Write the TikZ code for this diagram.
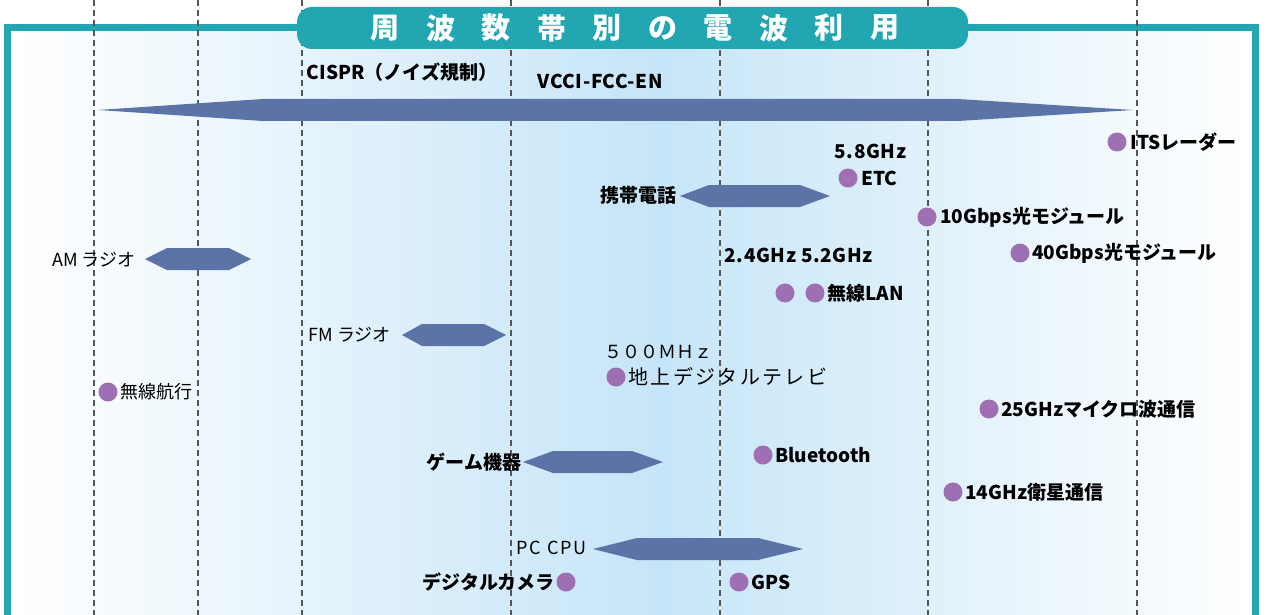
\documentclass[tikz,border=0pt]{standalone}
\usepackage{fontspec}
\newfontfamily\jp{Noto Sans CJK JP}
\usetikzlibrary{positioning}
\definecolor{frameteal}{RGB}{34,166,178}
\definecolor{bandblue}{RGB}{92,115,168}
\definecolor{dotpurple}{RGB}{158,111,178}
\definecolor{skyblue}{RGB}{198,229,248}
\definecolor{gridgray}{RGB}{85,85,85}
\newcommand{\freqband}[5]{%
    \fill[bandblue] (#1,#5) -- (#2,#5-11) -- (#3,#5-11)
        -- (#4,#5) -- (#3,#5+11) -- (#2,#5+11) -- cycle;
}
\tikzset{
    freqdot/.style={circle, fill=dotpurple, minimum size=19pt, inner sep=0pt},
    boldlbl/.style={font=\jp\bfseries\fontsize{19}{19}\selectfont, inner sep=1.5pt},
    widelbl/.style={font=\jp\bfseries\fontsize{19}{19}\selectfont\addfontfeature{LetterSpace=3}, inner sep=1.5pt},
    thinlbl/.style={font=\jp\fontsize{18}{18}\selectfont, inner sep=1.5pt},
    titlechar/.style={font=\jp\bfseries\fontsize{29}{29}\selectfont, text=white, inner sep=0pt},
    gridline/.style={gridgray, line width=1.2pt, dash pattern=on 6pt off 4pt},
}

\begin{document}
\begin{tikzpicture}[x=1pt, y=-1pt]
    \useasboundingbox (0,0) rectangle (1268,615);
    % background and frame
    \shade[left color=white, right color=skyblue] (11,31) rectangle (660,615);
    \shade[left color=skyblue, right color=white] (660,31) rectangle (1252,615);
    \draw[frameteal, line width=7pt] (7.5,615) -- (7.5,27.5) -- (1255.5,27.5) -- (1255.5,615);
    \foreach \gx in {94,198,302,511,720,928,1137}
        \draw[gridline] (\gx,0) -- (\gx,615);
    \fill[frameteal, rounded corners=15pt] (297,7) rectangle (968,49);
    \foreach \ch [count=\i] in {周,波,数,帯,別,の,電,波,利,用}
        \node[titlechar] (title\i) at ({385+55.5*(\i-1)},28) {\ch};

    % bands
    \freqband{98}{263}{958}{1133}{110}
    \node[boldlbl, anchor=west] (cispr) at (305,72) {CISPR（ノイズ規制）};
    \node[widelbl, anchor=west] (vcci) at (536,81) {VCCI-FCC-EN};
    \freqband{680}{709}{800}{830}{196}
    \node[boldlbl, anchor=east] (keitai) at (678,195) {携帯電話};
    \freqband{145}{167}{229}{251}{259}
    \node[thinlbl, anchor=east] (am) at (137,260) {AM ラジオ};
    \freqband{402}{422}{484}{506}{335}
    \node[thinlbl, anchor=west] (fm) at (307,335) {FM ラジオ};
    \freqband{523}{553}{632}{663}{462}
    \node[boldlbl, anchor=east] (game) at (523,462) {ゲーム機器};
    \freqband{593}{637}{758}{803}{549}
    \node[thinlbl, anchor=west, font=\jp\fontsize{18}{18}\selectfont\addfontfeature{LetterSpace=10}] (cpu) at (515,548) {PC CPU};

    % single frequencies
    \node[freqdot] (its) at (1117,142) {};
    \node[boldlbl, right=2pt of its] (itslbl) {ITSレーダー};
    \node[widelbl, anchor=west] (ghz58) at (833,151) {5.8GHz};
    \node[freqdot] (etc) at (848,178) {};
    \node[boldlbl, right=2pt of etc] (etclbl) {ETC};
    \node[freqdot] (opt10) at (927,217) {};
    \node[boldlbl, right=2pt of opt10] (opt10lbl) {10Gbps光モジュール};
    \node[widelbl, anchor=west] (ghz2452) at (723,255) {2.4GHz 5.2GHz};
    \node[freqdot] (opt40) at (1020,253) {};
    \node[boldlbl, right=1pt of opt40] (opt40lbl) {40Gbps光モジュール};
    \node[freqdot] (lan24) at (785,293) {};
    \node[freqdot] (lan52) at (815,293) {};
    \node[boldlbl, right=1pt of lan52] (lanlbl) {無線LAN};
    \node[thinlbl, anchor=west] (mhz500) at (603,352) {５００ＭＨｚ};
    \node[freqdot] (dtv) at (616,377) {};
    \node[thinlbl, right=1pt of dtv, font=\jp\fontsize{20}{20}\selectfont\addfontfeature{LetterSpace=12}] (dtvlbl) {地上デジタルテレビ};
    \node[freqdot] (nav) at (108,392) {};
    \node[thinlbl, right=1pt of nav] (navlbl) {無線航行};
    \node[freqdot] (micro) at (989,409) {};
    \node[boldlbl, right=1pt of micro] (microlbl) {25GHzマイクロ波通信};
    \node[freqdot] (bt) at (763,455) {};
    \node[boldlbl, right=1pt of bt] (btlbl) {Bluetooth};
    \node[freqdot] (sat) at (953,492) {};
    \node[boldlbl, right=1pt of sat] (satlbl) {14GHz衛星通信};
    \node[freqdot] (cam) at (566,582) {};
    \node[boldlbl, left=0pt of cam] (camlbl) {デジタルカメラ};
    \node[freqdot] (gps) at (739,582) {};
    \node[boldlbl, right=1pt of gps] (gpslbl) {GPS};
\end{tikzpicture}
\end{document}
